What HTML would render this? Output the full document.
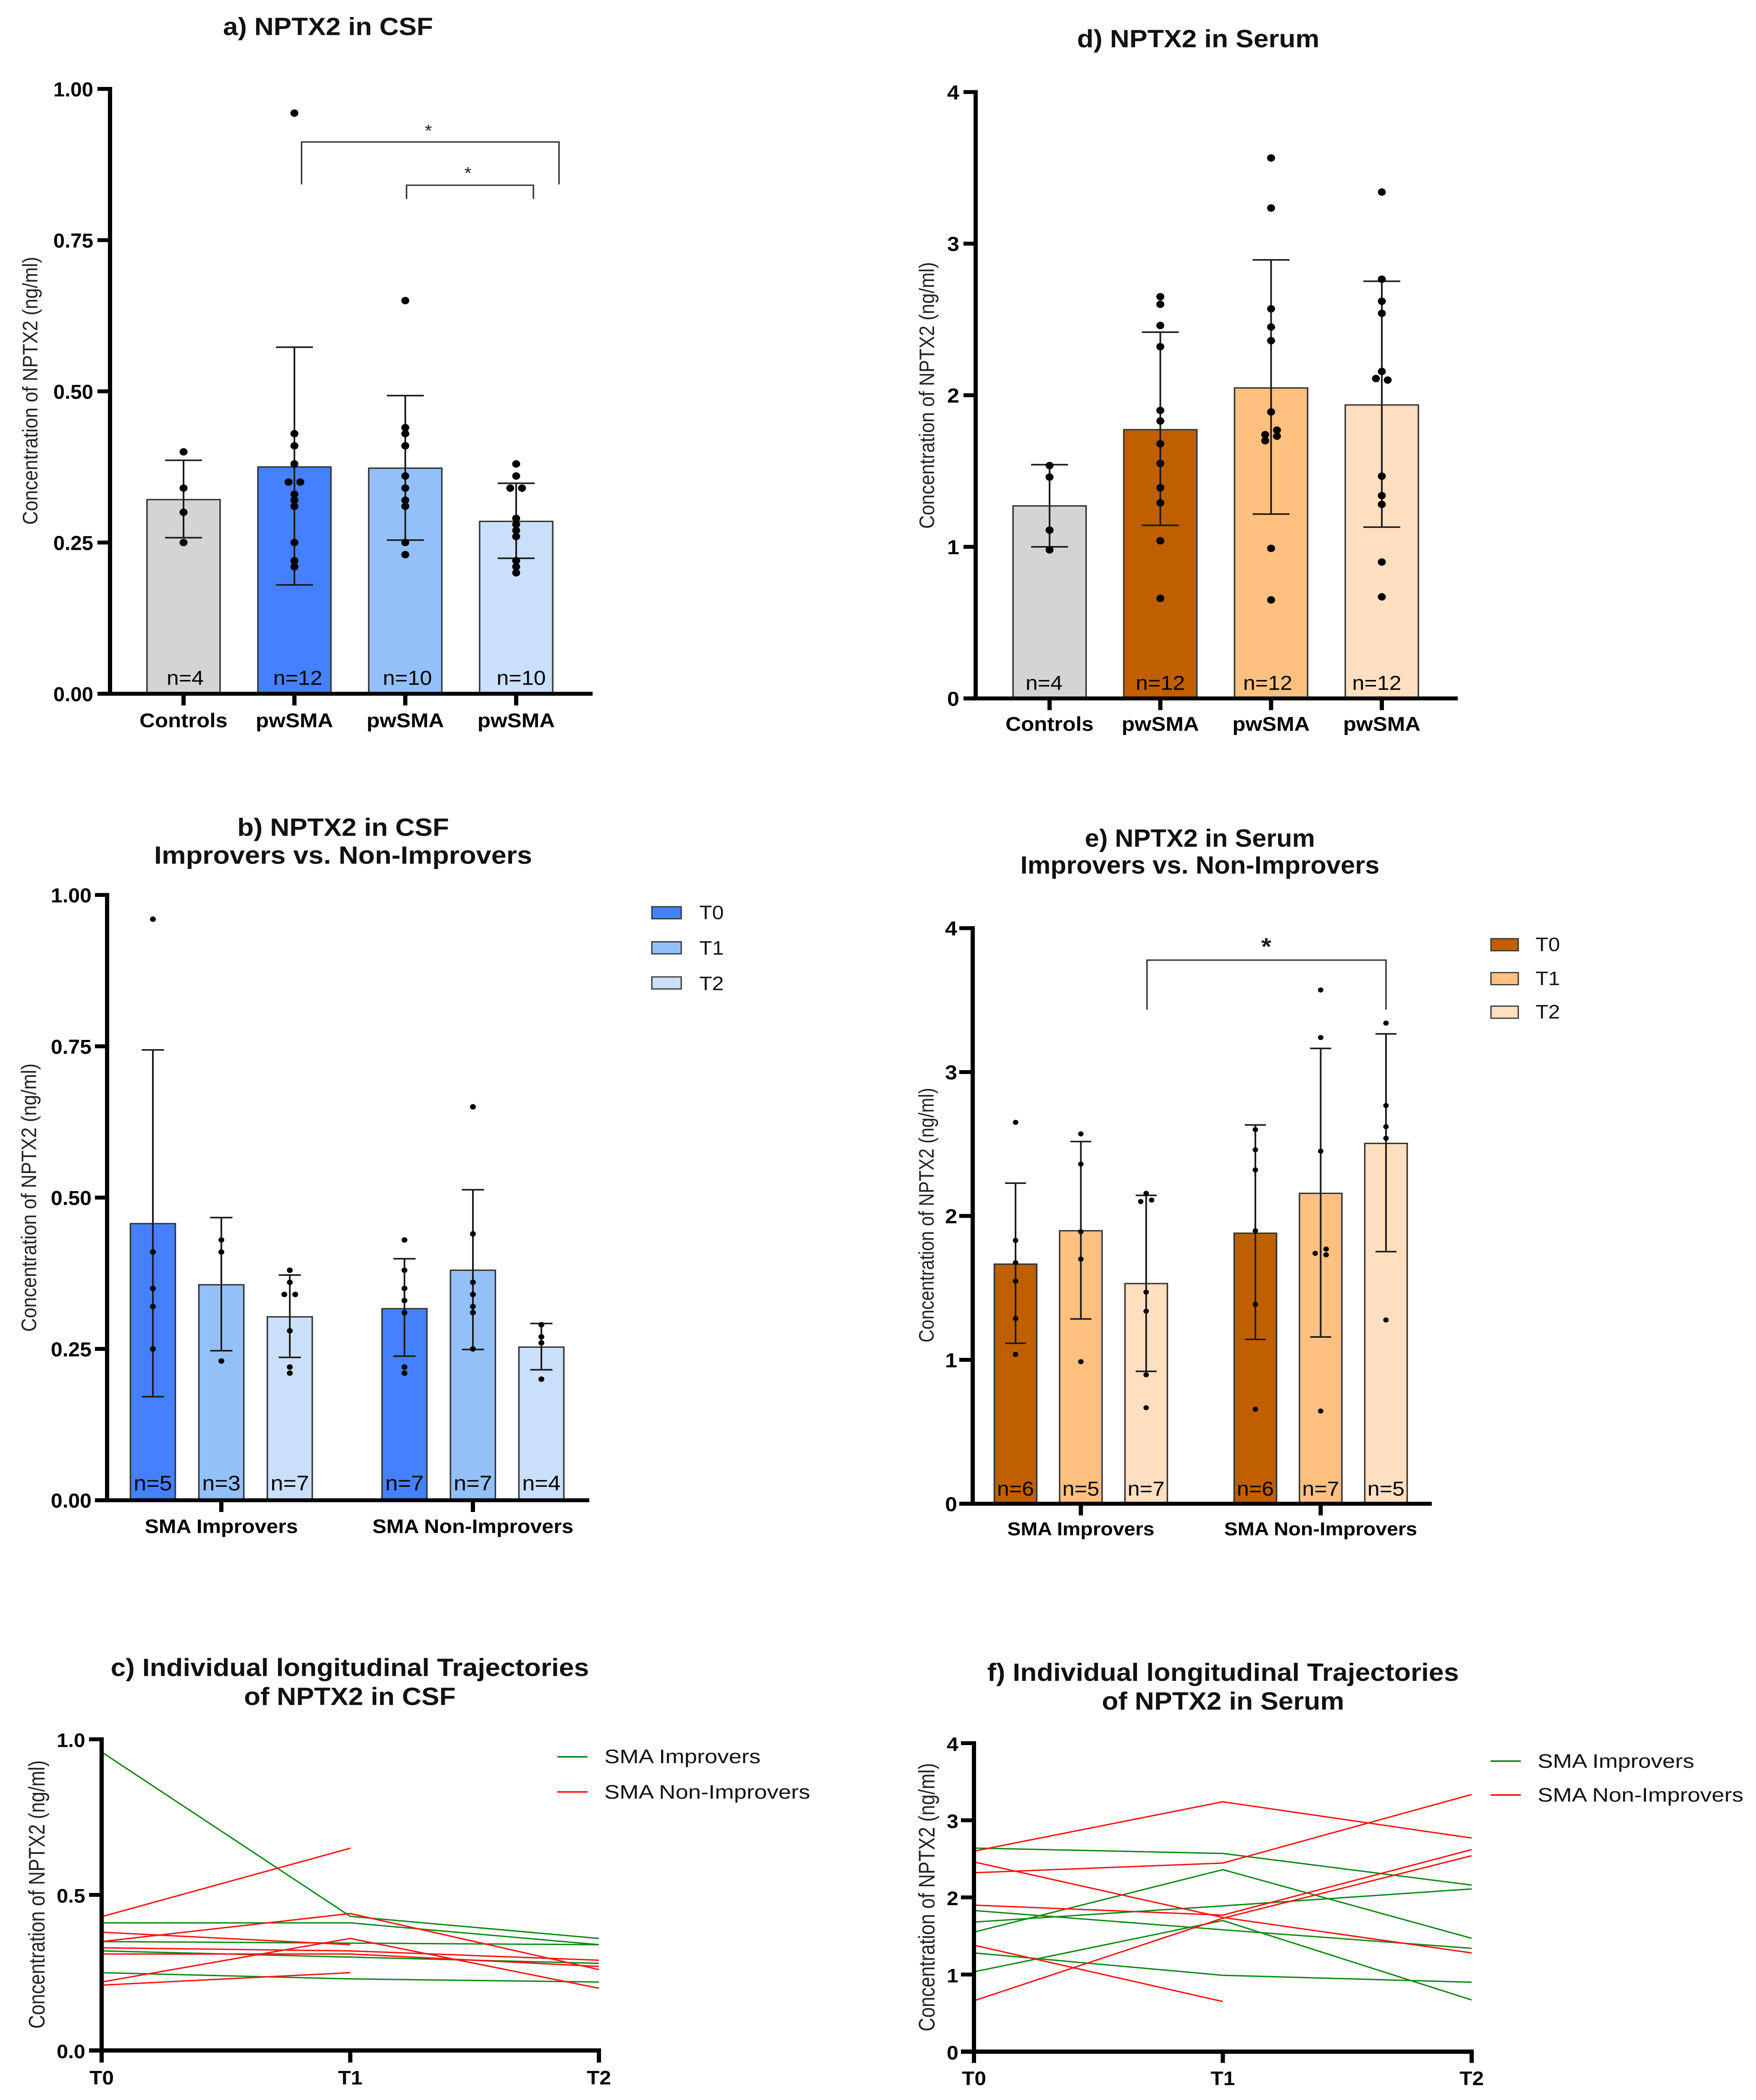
<!DOCTYPE html>
<html lang="en">
<head>
<meta charset="utf-8">
<title>NPTX2 in CSF and Serum</title>
<style>
html,body{margin:0;padding:0;background:#fff;width:100vw;height:100vh;overflow:hidden;}
svg{display:block;position:absolute;left:0;top:0;width:100vw;height:100vh;}
text{font-family:"Liberation Sans",Arial,sans-serif;fill:#000;}
.title{font-weight:bold;font-size:64px;text-anchor:middle;fill:#111;}
.ytitle{font-size:50px;text-anchor:middle;fill:#222;}
.legend-text{font-size:50px;fill:#111;}
.star{font-size:44px;text-anchor:middle;fill:#222;}
</style>
</head>
<body>
<svg id="figure" xmlns="http://www.w3.org/2000/svg" viewBox="0 0 4181 5385" preserveAspectRatio="none">
<rect width="4181" height="5385" fill="#fff"/>

<g id="panel-a">
  <text class="title" x="781" y="90" textLength="500" lengthAdjust="spacingAndGlyphs">a) NPTX2 in CSF</text>
  <text class="ytitle" transform="translate(89,1002) rotate(-90)" textLength="687" lengthAdjust="spacingAndGlyphs">Concentration of NPTX2 (ng/ml)</text>
  <path d="M718 473V364H1331V473" fill="none" stroke="#333" stroke-width="3.5"/>
  <path d="M968 510V475H1270V510" fill="none" stroke="#333" stroke-width="3.5"/>
  <text class="star" x="1020" y="350">*</text>
  <text class="star" x="1114" y="459">*</text>
</g>

<g id="panel-d">
  <text class="title" x="2853" y="121" textLength="577" lengthAdjust="spacingAndGlyphs">d) NPTX2 in Serum</text>
  <text class="ytitle" transform="translate(2224,1014) rotate(-90)" textLength="684" lengthAdjust="spacingAndGlyphs">Concentration of NPTX2 (ng/ml)</text>
</g>

<g id="panel-b">
  <text class="title" x="817" y="2143" textLength="504" lengthAdjust="spacingAndGlyphs">b) NPTX2 in CSF</text>
  <text class="title" x="817" y="2215" textLength="900" lengthAdjust="spacingAndGlyphs">Improvers vs. Non-Improvers</text>
  <text class="ytitle" transform="translate(86,3071) rotate(-90)" textLength="688" lengthAdjust="spacingAndGlyphs">Concentration of NPTX2 (ng/ml)</text>
  <g>
    <rect x="1552" y="2325" width="70" height="31" fill="#4580ff" stroke="#333" stroke-width="3"/>
    <text class="legend-text" x="1665" y="2357">T0</text>
    <rect x="1552" y="2415" width="70" height="31" fill="#94c0fa" stroke="#333" stroke-width="3"/>
    <text class="legend-text" x="1665" y="2448">T1</text>
    <rect x="1552" y="2505" width="70" height="31" fill="#c9dffa" stroke="#333" stroke-width="3"/>
    <text class="legend-text" x="1665" y="2539">T2</text>
  </g>
</g>

<g id="panel-e">
  <text class="title" x="2857" y="2171" textLength="548" lengthAdjust="spacingAndGlyphs">e) NPTX2 in Serum</text>
  <text class="title" x="2857" y="2240" textLength="855" lengthAdjust="spacingAndGlyphs">Improvers vs. Non-Improvers</text>
  <text class="ytitle" transform="translate(2223,3116) rotate(-90)" textLength="653" lengthAdjust="spacingAndGlyphs">Concentration of NPTX2 (ng/ml)</text>
  <path d="M2731 2589V2462H3300V2589" fill="none" stroke="#333" stroke-width="3.5"/>
  <text class="star" x="3015" y="2448" style="font-size:62px;font-weight:bold">*</text>
  <g>
    <rect x="3550" y="2407" width="65" height="31" fill="#bf5f00" stroke="#333" stroke-width="3"/>
    <text class="legend-text" x="3656" y="2439">T0</text>
    <rect x="3550" y="2494" width="65" height="31" fill="#ffc080" stroke="#333" stroke-width="3"/>
    <text class="legend-text" x="3656" y="2526">T1</text>
    <rect x="3550" y="2580" width="65" height="31" fill="#ffdfbf" stroke="#333" stroke-width="3"/>
    <text class="legend-text" x="3656" y="2612">T2</text>
  </g>
</g>

<g id="panel-c">
  <text class="title" x="833" y="4298" textLength="1139" lengthAdjust="spacingAndGlyphs">c) Individual longitudinal Trajectories</text>
  <text class="title" x="833" y="4372" textLength="504" lengthAdjust="spacingAndGlyphs">of NPTX2 in CSF</text>
  <text class="ytitle" style="font-size:54px" transform="translate(106,4858) rotate(-90)" textLength="688" lengthAdjust="spacingAndGlyphs">Concentration of NPTX2 (ng/ml)</text>
  <g>
    <line x1="1327" x2="1399" y1="4505" y2="4505" stroke="#0a8a12" stroke-width="4"/>
    <text class="legend-text" x="1439" y="4521" textLength="372" lengthAdjust="spacingAndGlyphs">SMA Improvers</text>
    <line x1="1327" x2="1399" y1="4595" y2="4595" stroke="#ff0f0f" stroke-width="4"/>
    <text class="legend-text" x="1439" y="4612" textLength="490" lengthAdjust="spacingAndGlyphs">SMA Non-Improvers</text>
  </g>
</g>

<g id="panel-f">
  <text class="title" x="2912" y="4310" textLength="1123" lengthAdjust="spacingAndGlyphs">f) Individual longitudinal Trajectories</text>
  <text class="title" x="2912" y="4384" textLength="577" lengthAdjust="spacingAndGlyphs">of NPTX2 in Serum</text>
  <text class="ytitle" style="font-size:54px" transform="translate(2225,4865) rotate(-90)" textLength="688" lengthAdjust="spacingAndGlyphs">Concentration of NPTX2 (ng/ml)</text>
  <g>
    <line x1="3549" x2="3621" y1="4516" y2="4516" stroke="#0a8a12" stroke-width="4"/>
    <text class="legend-text" x="3661" y="4533" textLength="373" lengthAdjust="spacingAndGlyphs">SMA Improvers</text>
    <line x1="3549" x2="3621" y1="4603" y2="4603" stroke="#ff0f0f" stroke-width="4"/>
    <text class="legend-text" x="3661" y="4620" textLength="490" lengthAdjust="spacingAndGlyphs">SMA Non-Improvers</text>
  </g>
</g>
</svg>

<script>
/* ---------- Panel a: CSF ---------- */
const aCategories = ["Controls", "pwSMA", "pwSMA", "pwSMA"];
const aTickLabels = ["0.00", "0.25", "0.50", "0.75", "1.00"];
const aTickValues = [0, 0.25, 0.5, 0.75, 1];
const aMeans = [0.321, 0.375, 0.373, 0.285];
const aErrHigh = [0.386, 0.573, 0.493, 0.348];
const aErrLow = [0.258, 0.18, 0.254, 0.224];
const aCounts = [4, 12, 10, 10];
const aPoints = [
  [0.40, 0.34, 0.30, 0.25],
  [0.96, 0.43, 0.41, 0.38, 0.33, 0.32, 0.31, 0.25, 0.22, 0.21],
  [0.65, 0.44, 0.43, 0.41, 0.36, 0.34, 0.32, 0.31, 0.25, 0.23],
  [0.38, 0.36, 0.29, 0.28, 0.27, 0.26, 0.22, 0.21, 0.20]
];
const aPointsLeft = [[], [0.35], [], [0.34]];
const aPointsRight = [[], [0.35], [], [0.34]];

/* ---------- Panel d: Serum ---------- */
const dCategories = ["Controls", "pwSMA", "pwSMA", "pwSMA"];
const dTickLabels = ["0", "1", "2", "3", "4"];
const dTickValues = [0, 1, 2, 3, 4];
const dMeans = [1.27, 1.773, 2.048, 1.936];
const dErrHigh = [1.542, 2.416, 2.893, 2.752];
const dErrLow = [1.0, 1.142, 1.216, 1.13];
const dCounts = [4, 12, 12, 12];
const dPoints = [
  [1.536, 1.46, 1.11, 0.98],
  [2.65, 2.60, 2.46, 2.32, 1.90, 1.83, 1.68, 1.55, 1.39, 1.29, 1.04, 0.66],
  [3.565, 3.235, 2.57, 2.45, 2.36, 1.89, 0.99, 0.65],
  [3.34, 2.765, 2.62, 2.54, 2.157, 1.466, 1.338, 1.28, 0.90, 0.67]
];
const dPointsLeft = [[], [], [1.74, 1.70], [2.11]];
const dPointsRight = [[], [], [1.77, 1.73], [2.10]];

/* ---------- Panel b: CSF improvers ---------- */
const bTickLabels = ["0.00", "0.25", "0.50", "0.75", "1.00"];
const bTickValues = [0, 0.25, 0.5, 0.75, 1];
const bGroups = ["SMA Improvers", "SMA Non-Improvers"];
const bMeans = [0.457, 0.356, 0.303, 0.3165, 0.38, 0.253];
const bErrHigh = [0.744, 0.467, 0.372, 0.399, 0.513, 0.292];
const bErrLow = [0.171, 0.247, 0.236, 0.238, 0.249, 0.2155];
const bCounts = [5, 3, 7, 7, 7, 4];
const bPoints = [
  [0.96, 0.41, 0.35, 0.32, 0.25],
  [0.43, 0.41, 0.23],
  [0.38, 0.36, 0.28, 0.22, 0.21],
  [0.43, 0.38, 0.35, 0.33, 0.31, 0.22, 0.21],
  [0.65, 0.44, 0.36, 0.34, 0.32, 0.31, 0.25],
  [0.29, 0.27, 0.26, 0.20]
];
const bPointsLeft = [[], [], [0.34], [], [], []];
const bPointsRight = [[], [], [0.34], [], [], []];

/* ---------- Panel e: Serum improvers ---------- */
const eTickLabels = ["0", "1", "2", "3", "4"];
const eTickValues = [0, 1, 2, 3, 4];
const eGroups = ["SMA Improvers", "SMA Non-Improvers"];
const eMeans = [1.665, 1.897, 1.53, 1.88, 2.157, 2.504];
const eErrHigh = [2.228, 2.517, 2.143, 2.632, 3.164, 3.265];
const eErrLow = [1.115, 1.284, 0.92, 1.142, 1.159, 1.752];
const eCounts = [6, 5, 7, 6, 7, 5];
const ePoints = [
  [2.65, 1.83, 1.675, 1.547, 1.287, 1.038],
  [2.57, 2.36, 1.89, 1.70, 0.987],
  [2.157, 1.47, 1.338, 0.896, 0.667],
  [2.60, 2.46, 2.32, 1.897, 1.385, 0.657],
  [3.57, 3.24, 2.45, 0.644],
  [3.34, 2.767, 2.62, 2.54, 1.277]
];
const ePointsLeft = [[], [], [2.10], [], [1.74], []];
const ePointsRight = [[], [], [2.11], [], [1.77, 1.73], []];

/* ---------- Panel c: CSF trajectories ---------- */
const cTimepoints = ["T0", "T1", "T2"];
const cTickLabels = ["0.0", "0.5", "1.0"];
const cTickValues = [0, 0.5, 1];
const cImprovers = [
  [0.959, 0.431, 0.36],
  [0.41, 0.41, 0.34],
  [0.35, 0.345, 0.34],
  [0.32, 0.30, 0.28],
  [0.25, 0.23, 0.22]
];
const cNonImprovers = [
  [0.43, 0.65],
  [0.35, 0.44, 0.26],
  [0.38, 0.34],
  [0.33, 0.32, 0.29],
  [0.31, 0.31, 0.27],
  [0.22, 0.36, 0.20],
  [0.21, 0.25]
];

/* ---------- Panel f: Serum trajectories ---------- */
const fTimepoints = ["T0", "T1", "T2"];
const fTickLabels = ["0", "1", "2", "3", "4"];
const fTickValues = [0, 1, 2, 3, 4];
const fImprovers = [
  [2.64, 2.57, 2.16],
  [1.55, 2.36, 1.47],
  [1.68, 1.89, 2.11],
  [1.83, 1.58, 1.34],
  [1.035, 1.70, 0.67],
  [1.28, 0.99, 0.90]
];
const fNonImprovers = [
  [2.60, 3.24, 2.77],
  [2.32, 2.445, 3.335],
  [2.46, 1.74, 1.28],
  [1.90, 1.77, 2.62],
  [0.66, 1.73, 2.54],
  [1.38, 0.65]
];

/* ---------- Palettes ---------- */
const blueFills = ["#4580ff", "#94c0fa", "#c9dffa"];
const orangeFills = ["#bf5f00", "#ffc080", "#ffdfbf"];
const greyFill = "#d4d4d4";
const SVGNS = "http://www.w3.org/2000/svg";

function mk(tag, attrs, parent) {
  const el = document.createElementNS(SVGNS, tag);
  for (const k in attrs) el.setAttribute(k, attrs[k]);
  parent.appendChild(el);
  return el;
}

function linearY(y0, y1, vMin, vMax) {
  return v => y0 - (v - vMin) / (vMax - vMin) * (y0 - y1);
}

function drawYAxis(g, o, y, tickValues, tickLabels) {
  const axis = mk("line", {x1: o.axisX, x2: o.axisX, y1: o.y1 - 5, y2: o.y0 + 5, stroke: "#000", "stroke-width": 10}, g);
  
  
  tickValues.forEach((v, i) => {
    const t = mk("line", {x1: o.tickLeft, x2: o.axisX, y1: y(v), y2: y(v), stroke: "#000", "stroke-width": 10}, g);
    
    
    const labAttrs = {x: o.labelRight, y: y(v) + o.labelDy, "text-anchor": "end", "font-size": o.labelSize, "font-weight": "bold"};
    if (o.labelLen) { labAttrs.textLength = o.labelLen; labAttrs.lengthAdjust = "spacingAndGlyphs"; }
    const lab = mk("text", labAttrs, g);
    lab.textContent = tickLabels[i];
    
    
  });
}

function drawBarPanel(panelId, o, means, high, low, counts, points, left, right, tickValues, tickLabels, fills) {
  const g = document.getElementById(panelId);
  const y = linearY(o.y0, o.y1, 0, o.max);
  const x = i => o.first + i * o.step + (i >= o.groupBreak ? o.gap : 0);
  means.forEach((m, i) => {
    const cx = x(i);
    const bar = mk("rect", {x: cx - o.barW / 2, y: y(m), width: o.barW, height: o.y0 - y(m), fill: fills[i], stroke: "#333", "stroke-width": 3.5}, g);
    
    
    const stem = mk("line", {x1: cx, x2: cx, y1: y(high[i]), y2: y(low[i]), stroke: "#1a1a1a", "stroke-width": 4}, g);
    
    
    [high[i], low[i]].forEach(val => {
      const cap = mk("line", {x1: cx - o.capW, x2: cx + o.capW, y1: y(val), y2: y(val), stroke: "#1a1a1a", "stroke-width": 4}, g);
      
      
    });
    [[points[i], 0], [left[i], -o.jitter], [right[i], o.jitter]].forEach(pair => {
      pair[0].forEach(v => {
        const dot = mk("circle", {cx: cx + pair[1], cy: y(v), r: o.dotR, fill: "#000"}, g);
        
        
      });
    });
    const n = mk("text", {x: cx + (o.nShift ? o.nShift[i] : 0), y: o.nBaseline, "text-anchor": "middle", "font-size": o.nSize, fill: "#111"}, g);
    n.textContent = "n=" + counts[i];
    
    
  });
  const xAxis = mk("line", {x1: o.tickLeft, x2: o.xRight, y1: o.y0, y2: o.y0, stroke: "#000", "stroke-width": 10}, g);
  
  
  drawYAxis(g, o, y, tickValues, tickLabels);
  o.xTicks.forEach(tk => {
    const cx = x(tk.i);
    const t = mk("line", {x1: cx, x2: cx, y1: o.y0, y2: o.y0 + 30, stroke: "#000", "stroke-width": 10}, g);
    
    
    const lab = mk("text", {x: cx, y: o.catBaseline, "text-anchor": "middle", "font-size": o.catSize, "font-weight": "bold"}, g);
    lab.textContent = tk.label;
    
    
  });
}

function drawLinePanel(panelId, o, timepoints, improvers, nonImprovers, tickValues, tickLabels) {
  const g = document.getElementById(panelId);
  const y = linearY(o.y0, o.y1, 0, o.max);
  const x = i => o.axisX + i * (o.xRight - o.axisX) / (timepoints.length - 1);
  improvers.forEach(series => {
    const line = mk("polyline", {points: series.map((v, i) => x(i) + "," + y(v)).join(" "), fill: "none", stroke: "#0a8a12", "stroke-width": 3.5}, g);
    
    
  });
  nonImprovers.forEach(series => {
    const line = mk("polyline", {points: series.map((v, i) => x(i) + "," + y(v)).join(" "), fill: "none", stroke: "#ff0f0f", "stroke-width": 3.5}, g);
    
    
  });
  const xAxis = mk("line", {x1: o.tickLeft, x2: o.xRight + 5, y1: o.y0, y2: o.y0, stroke: "#000", "stroke-width": 11}, g);
  
  
  drawYAxis(g, o, y, tickValues, tickLabels);
  timepoints.forEach((t, i) => {
    const tick = mk("line", {x1: x(i), x2: x(i), y1: o.y0, y2: o.tickBottom, stroke: "#000", "stroke-width": 10}, g);
    
    
    const lab = mk("text", {x: x(i), y: o.catBaseline, "text-anchor": "middle", "font-size": o.catSize, "font-weight": "bold", textLength: 58, lengthAdjust: "spacingAndGlyphs"}, g);
    lab.textContent = t;
    
    
  });
}

drawBarPanel("panel-a", {
  axisX: 262, y0: 1779, y1: 228, max: 1, tickLeft: 232, xRight: 1411, labelRight: 222, labelDy: 19, labelSize: 52, labelLen: 95,
  first: 437, step: 264, gap: 0, groupBreak: 99, barW: 174, capW: 44, dotR: 9.5, jitter: 14,
  nBaseline: 1756, nSize: 52, nShift: [4, 8, 5, 12], catBaseline: 1865, catSize: 51,
  xTicks: aCategories.map((label, i) => ({i: i, label: label}))
}, aMeans, aErrHigh, aErrLow, aCounts, aPoints, aPointsLeft, aPointsRight, aTickValues, aTickLabels,
  [greyFill, blueFills[0], blueFills[1], blueFills[2]]);

drawBarPanel("panel-d", {
  axisX: 2323, y0: 1791, y1: 236, max: 4, tickLeft: 2294, xRight: 3471, labelRight: 2284, labelDy: 19, labelSize: 52,
  first: 2499, step: 263.7, gap: 0, groupBreak: 99, barW: 174, capW: 44, dotR: 9.5, jitter: 14,
  nBaseline: 1769, nSize: 52, nShift: [-13, 0, -8, -12], catBaseline: 1874, catSize: 51,
  xTicks: dCategories.map((label, i) => ({i: i, label: label}))
}, dMeans, dErrHigh, dErrLow, dCounts, dPoints, dPointsLeft, dPointsRight, dTickValues, dTickLabels,
  [greyFill, orangeFills[0], orangeFills[1], orangeFills[2]]);

drawBarPanel("panel-b", {
  axisX: 255, y0: 3847, y1: 2295, max: 1, tickLeft: 226, xRight: 1403, labelRight: 218, labelDy: 19, labelSize: 52, labelLen: 97,
  first: 364, step: 163, gap: 110, groupBreak: 3, barW: 107, capW: 26.5, dotR: 7, jitter: 13,
  nBaseline: 3822, nSize: 54, catBaseline: 3931, catSize: 50,
  xTicks: [{i: 1, label: bGroups[0]}, {i: 4, label: bGroups[1]}]
}, bMeans, bErrHigh, bErrLow, bCounts, bPoints, bPointsLeft, bPointsRight, bTickValues, bTickLabels,
  [blueFills[0], blueFills[1], blueFills[2], blueFills[0], blueFills[1], blueFills[2]]);

drawBarPanel("panel-e", {
  axisX: 2316, y0: 3856, y1: 2380, max: 4, tickLeft: 2284, xRight: 3409, labelRight: 2279, labelDy: 19, labelSize: 52,
  first: 2418, step: 155.5, gap: 104.5, groupBreak: 3, barW: 101, capW: 25, dotR: 6.5, jitter: 13,
  nBaseline: 3835, nSize: 52, catBaseline: 3937, catSize: 48,
  xTicks: [{i: 1, label: eGroups[0]}, {i: 4, label: eGroups[1]}]
}, eMeans, eErrHigh, eErrLow, eCounts, ePoints, ePointsLeft, ePointsRight, eTickValues, eTickLabels,
  [orangeFills[0], orangeFills[1], orangeFills[2], orangeFills[0], orangeFills[1], orangeFills[2]]);

drawLinePanel("panel-c", {
  axisX: 242, xRight: 1426, y0: 5258, y1: 4460, max: 1, tickLeft: 212, tickBottom: 5289,
  labelRight: 203, labelDy: 20, labelSize: 50, labelLen: 68, catBaseline: 5345, catSize: 50
}, cTimepoints, cImprovers, cNonImprovers, cTickValues, cTickLabels);

drawLinePanel("panel-f", {
  axisX: 2319, xRight: 3504, y0: 5261, y1: 4470, max: 4, tickLeft: 2288, tickBottom: 5290,
  labelRight: 2282, labelDy: 20, labelSize: 50, catBaseline: 5347, catSize: 50
}, fTimepoints, fImprovers, fNonImprovers, fTickValues, fTickLabels);
</script>
</body>
</html>
